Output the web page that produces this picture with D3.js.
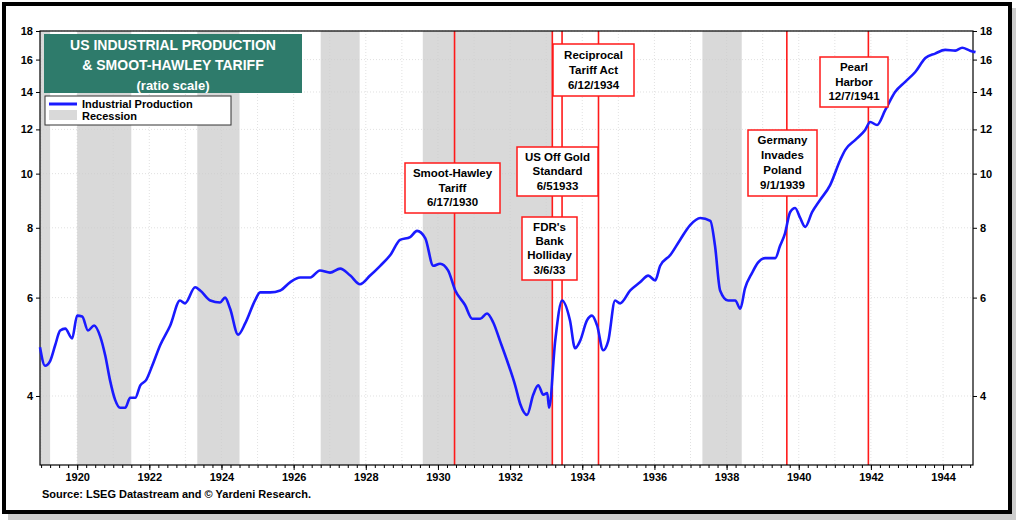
<!DOCTYPE html>
<html><head><meta charset="utf-8">
<script src="https://cdn.jsdelivr.net/npm/d3@7"></script>
<style>body{margin:0;background:#fff;font-family:Arial,"Liberation Sans",sans-serif}</style>
</head><body><svg id="c" width="1024" height="526"></svg>
<script>
const years=[1918.97,1919.11,1919.25,1919.39,1919.53,1919.67,1919.86,1920,1920.14,1920.30,1920.47,1920.64,1920.78,1920.91,1921.05,1921.19,1921.33,1921.47,1921.61,1921.75,1921.91,1922.08,1922.30,1922.58,1922.85,1922.99,1923.27,1923.41,1923.69,1923.96,1924.10,1924.24,1924.46,1924.66,1924.93,1925.07,1925.35,1925.63,1925.90,1926.18,1926.46,1926.73,1927.01,1927.29,1927.57,1927.84,1928.12,1928.40,1928.68,1928.95,1929.23,1929.42,1929.65,1929.87,1930.06,1930.28,1930.48,1930.75,1930.95,1931.17,1931.36,1931.53,1931.72,1931.92,1932.14,1932.28,1932.47,1932.64,1932.78,1932.92,1933.03,1933.08,1933.25,1933.44,1933.66,1933.80,1933.94,1934.13,1934.27,1934.41,1934.58,1934.72,1934.91,1935.05,1935.33,1935.60,1935.83,1936.02,1936.16,1936.44,1936.71,1936.99,1937.27,1937.55,1937.68,1937.82,1938.04,1938.24,1938.38,1938.51,1938.71,1938.87,1939.07,1939.35,1939.48,1939.62,1939.76,1939.90,1940.04,1940.18,1940.37,1940.59,1940.87,1941.15,1941.29,1941.57,1941.84,1941.98,1942.17,1942.40,1942.67,1942.95,1943.23,1943.51,1943.78,1944.06,1944.34,1944.53,1944.75,1944.9];
const production=[4.89,4.53,4.62,4.93,5.24,5.28,5.07,5.57,5.55,5.24,5.35,5.11,4.72,4.27,3.94,3.81,3.81,3.97,3.97,4.18,4.27,4.53,4.93,5.35,5.93,5.86,6.26,6.18,5.93,5.88,6.00,5.73,5.15,5.40,5.93,6.13,6.13,6.18,6.39,6.52,6.52,6.71,6.65,6.76,6.57,6.34,6.57,6.84,7.15,7.61,7.7,7.9,7.66,6.84,6.90,6.71,6.18,5.82,5.50,5.50,5.62,5.42,5.02,4.62,4.18,3.87,3.70,4.02,4.18,4.02,4.05,3.81,5.02,5.93,5.46,4.87,5.02,5.46,5.57,5.35,4.83,5.02,5.93,5.86,6.18,6.39,6.57,6.44,6.84,7.15,7.61,8.09,8.33,8.23,7.42,6.18,5.93,5.93,5.73,6.23,6.65,6.93,7.06,7.06,7.42,7.82,8.53,8.68,8.33,8.03,8.53,8.97,9.54,10.58,11.03,11.49,11.97,12.37,12.22,13.0,14.0,14.6,15.2,16.1,16.4,16.65,16.6,16.8,16.6,16.5];
const recessions=[[1918.67,1919.25],[1920.0,1921.5],[1923.33,1924.5],[1926.75,1927.83],[1929.58,1933.17],[1937.33,1938.42]];
const events=[
 {year:1930.46,lines:["Smoot-Hawley","Tariff","6/17/1930"],box:[405,163,95,50]},
 {year:1933.17,lines:["FDR's","Bank","Holliday","3/6/33"],box:[522,217,55,63]},
 {year:1933.44,lines:["US Off Gold","Standard","6/51933"],box:[517,147,81,49]},
 {year:1934.45,lines:["Reciprocal","Tariff Act","6/12/1934"],box:[553,44,81,52]},
 {year:1939.67,lines:["Germany","Invades","Poland","9/1/1939"],box:[748,130,69,66]},
 {year:1941.93,lines:["Pearl","Harbor","12/7/1941"],box:[820,57,68,50]}];
const yTicks=[4,6,8,10,12,14,16,18];
const xTicks=d3.range(1920,1945,2);

const svg=d3.select("#c");
// frame with shadow
svg.append("rect").attr("x",8).attr("y",8).attr("width",1008).attr("height",512).attr("fill","#999").attr("opacity",0.5);
svg.append("rect").attr("x",4).attr("y",4).attr("width",1006).attr("height",508).attr("fill","#fff").attr("stroke","#000").attr("stroke-width",4);
const L=40,R=973,T=31,B=465;
const x=d3.scaleLinear().domain([1918.97,1944.83]).range([L,R]);
const y=d3.scaleLog().domain([3.01,18]).range([B,T]);
const g=svg.append("g");
g.selectAll(".rec").data(recessions).join("rect").attr("x",d=>Math.max(L,x(d[0]))).attr("width",d=>x(d[1])-Math.max(L,x(d[0]))).attr("y",T).attr("height",B-T).attr("fill","#d9d9d9");
g.selectAll(".vg").data(d3.range(1919,1945)).join("line").attr("x1",d=>x(d)).attr("x2",d=>x(d)).attr("y1",T).attr("y2",B).attr("stroke","#ccc").attr("stroke-dasharray","1,2").attr("stroke-width",0.6);
g.selectAll(".hg").data(yTicks).join("line").attr("x1",L).attr("x2",R).attr("y1",d=>y(d)).attr("y2",d=>y(d)).attr("stroke","#ccc").attr("stroke-dasharray","1,2").attr("stroke-width",0.6);
g.selectAll(".ev").data(events).join("line").attr("x1",d=>x(d.year)).attr("x2",d=>x(d.year)).attr("y1",T).attr("y2",B).attr("stroke","#ff1a1a").attr("stroke-width",1.6);
g.append("rect").attr("x",L).attr("y",T).attr("width",R-L).attr("height",B-T).attr("fill","none").attr("stroke","#000").attr("stroke-width",1.2);
const line=d3.line().x((d,i)=>x(years[i])).y(d=>y(d)).curve(d3.curveMonotoneX);
g.append("path").datum(production).attr("d",line).attr("fill","none").attr("stroke","#1a1aff").attr("stroke-width",2.6);
// axes
const ya=d3.axisLeft(y).tickValues(yTicks).tickFormat(d3.format("d")).tickSize(4);
const yb=d3.axisRight(y).tickValues(yTicks).tickFormat(d3.format("d")).tickSize(4);
const xa=d3.axisBottom(x).tickValues(xTicks).tickFormat(d3.format("d")).tickSize(5);
const xm=d3.axisBottom(x).tickValues(d3.range(1919,1944.8,0.25)).tickFormat("").tickSize(3);
[svg.append("g").attr("transform",`translate(${L},0)`).call(ya),
 svg.append("g").attr("transform",`translate(${R},0)`).call(yb),
 svg.append("g").attr("transform",`translate(0,${B})`).call(xa),
 svg.append("g").attr("transform",`translate(0,${B})`).call(xm)].forEach(a=>{
  a.select(".domain").remove();
  a.selectAll("text").attr("font-size",11).attr("font-weight","bold").attr("fill","#000").attr("font-family","Arial,Liberation Sans");
  a.selectAll("line").attr("stroke","#000");
});
// annotations
events.forEach(e=>{
  const [bx,by,bw,bh]=e.box;
  svg.append("rect").attr("x",bx).attr("y",by).attr("width",bw).attr("height",bh).attr("fill","#fff").attr("stroke","#ff1a1a").attr("stroke-width",1.5);
  const lh=bh/(e.lines.length+0.4);
  e.lines.forEach((t,i)=>svg.append("text").attr("x",bx+bw/2).attr("y",by+lh*(i+0.95)).attr("text-anchor","middle").attr("font-size",11.5).attr("font-weight","bold").text(t));
});
// title
svg.append("rect").attr("x",44).attr("y",34).attr("width",258).attr("height",59).attr("fill","#2e7b6b");
["US INDUSTRIAL PRODUCTION","& SMOOT-HAWLEY TARIFF","(ratio scale)"].forEach((t,i)=>svg.append("text").attr("x",173).attr("y",50+i*20).attr("text-anchor","middle").attr("fill","#fff").attr("font-size",i<2?14:13).attr("font-weight","bold").text(t));
svg.append("rect").attr("x",45).attr("y",96).attr("width",186).attr("height",29).attr("fill","#fff").attr("stroke","#333");
svg.append("line").attr("x1",49).attr("x2",77).attr("y1",104).attr("y2",104).attr("stroke","#1a1aff").attr("stroke-width",3);
svg.append("rect").attr("x",49).attr("y",110).attr("width",28).attr("height",10).attr("fill","#d9d9d9");
svg.append("text").attr("x",82).attr("y",108).attr("font-size",11).attr("font-weight","bold").text("Industrial Production");
svg.append("text").attr("x",82).attr("y",120).attr("font-size",11).attr("font-weight","bold").text("Recession");
svg.append("text").attr("x",42).attr("y",498).attr("font-size",11).attr("font-weight","bold").text("Source: LSEG Datastream and © Yardeni Research.");
</script></body></html>
